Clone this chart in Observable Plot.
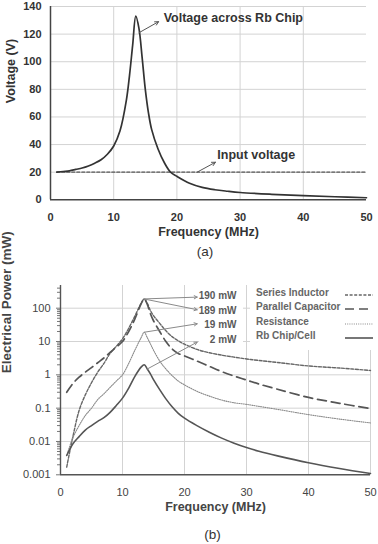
<!DOCTYPE html>
<html>
<head>
<meta charset="utf-8">
<script src="https://cdn.jsdelivr.net/npm/d3@7"></script>
<script src="https://cdn.jsdelivr.net/npm/@observablehq/plot@0.6"></script>
<style>
  html, body { margin: 0; padding: 0; background: #fff; }
  #fig { position: relative; width: 378px; height: 544px; overflow: hidden;
         font-family: "Liberation Sans", Arial, Helvetica, sans-serif; }
  #fig svg.chart { position: absolute; left: 0; }
  .cap { position: absolute; font-size: 13.5px; color: #333; transform: translate(-50%, -50%); }
  .box { position: absolute; background: #fff; }
  .lbl { position: absolute; font-size: 10px; font-weight: bold; color: #595959;
         white-space: nowrap; line-height: 12px; transform: translateY(-50%); }
  .swatch { position: absolute; }
</style>
</head>
<body>
<div id="fig"></div>
<script>
// ---- (a) voltage across the Rb chip vs. drive frequency ----
const freqA = [1, 2, 3, 4, 5, 6, 7, 8, 9, 10, 11, 12, 12.5, 13, 13.5, 14, 14.5, 15, 15.5, 16, 17, 18, 19, 20, 22, 24, 26, 28, 30, 35, 40, 45, 50];
const voltRb = [20, 20.5, 21, 22, 23, 24.5, 26.5, 29, 33, 39, 50, 72, 90, 112, 133, 124, 103, 80, 63, 51, 37, 27, 20, 17, 12, 9, 7.3, 6.2, 5.3, 4, 3, 2.2, 1.5];
const inputFreq = [1, 50];
const inputVolt = [20, 20];
const ticksVoltage = [0, 20, 40, 60, 80, 100, 120, 140];
const ticksFreq = [0, 10, 20, 30, 40, 50];

// ---- (b) electrical power dissipated per component ----
const freqB = [1, 2, 3, 4, 5, 6, 7, 8, 9, 10, 11, 12, 13, 13.5, 14, 14.5, 15, 16, 17, 18, 19, 20, 22, 24, 26, 28, 30, 32, 35, 40, 45, 50];
const seriesInductor = [0.0017, 0.014, 0.085, 0.25, 0.58, 1.2, 2.2, 4.4, 7.2, 12, 25, 58, 140, 190, 140, 85, 60, 35, 21, 14, 10.5, 8.3, 5.8, 4.6, 3.9, 3.4, 3.0, 2.7, 2.35, 1.85, 1.6, 1.35];
const parallelCapacitor = [0.3, 0.55, 0.85, 1.2, 1.65, 2.3, 3.2, 4.7, 6.8, 10, 20, 48, 135, 189, 130, 68, 42, 20, 10, 6, 4.4, 3.7, 2.6, 1.8, 1.25, 0.92, 0.7, 0.53, 0.37, 0.21, 0.14, 0.097];
const resistance = [0.0038, 0.013, 0.03, 0.06, 0.1, 0.18, 0.27, 0.42, 0.65, 1.0, 2.2, 5.5, 13, 19, 13, 8.5, 5.5, 2.6, 1.5, 0.95, 0.65, 0.5, 0.32, 0.23, 0.175, 0.145, 0.13, 0.113, 0.092, 0.064, 0.047, 0.036];
const rbChip = [0.0038, 0.0085, 0.014, 0.022, 0.03, 0.04, 0.052, 0.075, 0.12, 0.2, 0.4, 0.9, 1.7, 2.0, 1.5, 1.07, 0.72, 0.36, 0.19, 0.11, 0.07, 0.05, 0.03, 0.019, 0.0126, 0.0089, 0.0066, 0.0051, 0.0037, 0.0023, 0.00155, 0.0011];
const seriesNames = ["Series Inductor", "Parallel Capacitor", "Resistance", "Rb Chip/Cell"];
const peakValues = [190, 189, 19, 2];
const peakLabels = ["190 mW", "189 mW", "19 mW", "2 mW"];
const ticksPower = [0.001, 0.01, 0.1, 1, 10, 100];
const tickLabelsPower = ["0.001", "0.01", "0.1", "1", "10", "100"];

const font = '"Liberation Sans", Arial, Helvetica, sans-serif';
const fig = document.getElementById("fig");

// ----------------------------------------------------------------- chart (a)
const rowsA = freqA.map((f, i) => ({f, v: voltRb[i]}));
const rowsIn = inputFreq.map((f, i) => ({f, v: inputVolt[i]}));
const pointA = rowsA.find(d => d.f === 14);
const pointIn = {f: 23.2, v: inputVolt[0]};

const chartA = Plot.plot({
  width: 378, height: 262,
  marginTop: 6, marginRight: 12, marginBottom: 62.7, marginLeft: 50,
  style: {fontFamily: font, fontSize: "11px", fontWeight: "bold", color: "#333", background: "none", overflow: "visible"},
  x: {type: "linear", domain: [0, 50]},
  y: {type: "linear", domain: [0, 140]},
  marks: [
    Plot.gridY(ticksVoltage.filter(t => t > 0), {stroke: "#d3d3d3", strokeOpacity: 1}),
    Plot.gridX(ticksFreq.filter(t => t > 0 && t < 50), {stroke: "#d3d3d3", strokeOpacity: 1}),
    Plot.axisY(ticksVoltage, {tickSize: 0, tickPadding: 9, label: null}),
    Plot.axisX(ticksFreq, {tickSize: 0, tickPadding: 13, label: null}),
    Plot.ruleX([0], {stroke: "#444", strokeWidth: 1.5}),
    Plot.ruleY([0], {stroke: "#444", strokeWidth: 1.5}),
    Plot.line(rowsIn, {x: "f", y: "v", stroke: "#555", strokeWidth: 1.3, strokeDasharray: "3,2"}),
    Plot.line(rowsA, {x: "f", y: "v", curve: "catmull-rom", stroke: "#333", strokeWidth: 1.7}),
    Plot.arrow([{x1: pointA.f, y1: pointA.v - 3, x2: 17.1, y2: 129}],
      {x1: "x1", y1: "y1", x2: "x2", y2: "y2", stroke: "#555", strokeWidth: 1, headLength: 6, headAngle: 55}),
    Plot.arrow([{x1: pointIn.f, y1: pointIn.v, x2: 26.1, y2: 27.2}],
      {x1: "x1", y1: "y1", x2: "x2", y2: "y2", stroke: "#555", strokeWidth: 1, headLength: 6, headAngle: 55}),
    Plot.text([{f: 17.9, v: 131.9, t: "Voltage across Rb Chip"}],
      {x: "f", y: "v", text: "t", textAnchor: "start", fontSize: 12.5, fontWeight: "bold", fill: "#333"}),
    Plot.text([{f: 26.4, v: 32.6, t: "Input voltage"}],
      {x: "f", y: "v", text: "t", textAnchor: "start", fontSize: 12.5, fontWeight: "bold", fill: "#333"}),
    Plot.text(["Voltage (V)"], {text: d => d, frameAnchor: "left", dx: -40, rotate: -90, fontSize: 12.5, fontWeight: "bold", fill: "#333"}),
    Plot.text(["Frequency (MHz)"], {text: d => d, frameAnchor: "bottom", dy: 36, fontSize: 12.5, fontWeight: "bold", fill: "#333"})
  ]
});
chartA.classList.add("chart");
chartA.style.top = "0px";
fig.appendChild(chartA);

// ----------------------------------------------------------------- chart (b)
const seriesB = [seriesInductor, parallelCapacitor, resistance, rbChip];
const styles = [
  {stroke: "#666", strokeWidth: 1.4, dash: "3,1.6"},
  {stroke: "#555", strokeWidth: 1.7, dash: "9,5"},
  {stroke: "#8a8a8a", strokeWidth: 1.1, dash: "1,1.2"},
  {stroke: "#555", strokeWidth: 1.6, dash: null}
];
const rowsB = seriesB.map(vals => freqB.map((f, i) => ({f, p: vals[i]})));
const peakIdx = freqB.indexOf(13.5);
const minorPower = [];
for (let e = -3; e <= 2; ++e) for (let m = 2; m <= 9; ++m) {
  const v = m * Math.pow(10, e);
  if (v <= 480) minorPower.push(v);
}
// arrow tails sit on each curve's peak, heads point at the value labels
const arrowEnds = [215, 90, 34, 9.6];
const arrowRows = seriesB.map((vals, k) => {
  const i = k === 3 ? freqB.indexOf(14) : peakIdx;
  return {x1: freqB[i], y1: vals[i], x2: 22.05, y2: arrowEnds[k]};
});

const chartB = Plot.plot({
  width: 378, height: 274,
  marginTop: 15, marginRight: 8, marginBottom: 69.7, marginLeft: 60,
  style: {fontFamily: font, fontSize: "11px", color: "#444", background: "none", overflow: "visible"},
  x: {type: "linear", domain: [0, 50]},
  y: {type: "log", domain: [0.001, 480]},
  marks: [
    Plot.gridY(ticksPower.filter(t => t > 0.001), {stroke: "#d3d3d3", strokeOpacity: 1}),
    Plot.gridX(ticksFreq.filter(t => t > 0), {stroke: "#d3d3d3", strokeOpacity: 1}),
    Plot.axisY(minorPower, {tickSize: 3, tickFormat: () => "", label: null, stroke: "#777"}),
    Plot.axisY(ticksPower, {tickSize: 4, tickPadding: 6, tickFormat: d => tickLabelsPower[ticksPower.indexOf(d)], label: null, stroke: "#777"}),
    Plot.axisX(ticksFreq, {tickSize: 0, tickPadding: 13, label: null}),
    Plot.ruleX([0], {stroke: "#555", strokeWidth: 1.4}),
    Plot.ruleY([0.001], {stroke: "#555", strokeWidth: 1.4}),
    ...rowsB.map((rows, k) => Plot.line(rows, {
      x: "f", y: "p", curve: "catmull-rom",
      stroke: styles[k].stroke, strokeWidth: styles[k].strokeWidth,
      strokeDasharray: styles[k].dash
    })),
    Plot.arrow(arrowRows, {x1: "x1", y1: "y1", x2: "x2", y2: "y2", stroke: "#8a8a8a", strokeWidth: 1, headLength: 5, headAngle: 55}),
    Plot.text(["Electrical Power (mW)"], {text: d => d, frameAnchor: "left", dx: -54, dy: -7, rotate: -90, fontSize: 13.5, fontWeight: "bold", fill: "#444"}),
    Plot.text(["Frequency (MHz)"], {text: d => d, frameAnchor: "bottom", dy: 36, fontSize: 12.5, fontWeight: "bold", fill: "#444"})
  ]
});
chartB.classList.add("chart");
chartB.style.top = "270px";
fig.appendChild(chartB);

// value labels and legend sit on white panels over the plot area
function el(cls, css, text) {
  const d = document.createElement("div");
  d.className = cls;
  Object.assign(d.style, css);
  if (text != null) d.textContent = text;
  fig.appendChild(d);
  return d;
}
el("box", {left: "199px", top: "284px", width: "44px", height: "62px"});
el("box", {left: "250px", top: "284px", width: "128px", height: "66px"});

const labelY = [295.7, 310.5, 325, 340];
peakLabels.forEach((t, k) => {
  el("lbl", {right: (378 - 236.5) + "px", top: labelY[k] + "px"}, t);
});

const legendY = [292.7, 307, 321.7, 335.7];
seriesNames.forEach((name, k) => {
  el("lbl", {left: "256px", top: legendY[k] + "px", color: "#666"}, name);
  const ns = "http://www.w3.org/2000/svg";
  const s = document.createElementNS(ns, "svg");
  s.setAttribute("class", "swatch");
  s.setAttribute("width", "30");
  s.setAttribute("height", "6");
  s.style.left = "344px";
  s.style.top = (legendY[k] - 1) + "px";
  const ln = document.createElementNS(ns, "line");
  ln.setAttribute("x1", "1"); ln.setAttribute("x2", "29");
  ln.setAttribute("y1", "3"); ln.setAttribute("y2", "3");
  ln.setAttribute("stroke", styles[k].stroke);
  ln.setAttribute("stroke-width", styles[k].strokeWidth);
  if (styles[k].dash) ln.setAttribute("stroke-dasharray", styles[k].dash);
  s.appendChild(ln);
  fig.appendChild(s);
});

// panel captions
el("cap", {left: "205px", top: "251px"}, "(a)");
el("cap", {left: "212.5px", top: "534px"}, "(b)");
</script>
</body>
</html>
